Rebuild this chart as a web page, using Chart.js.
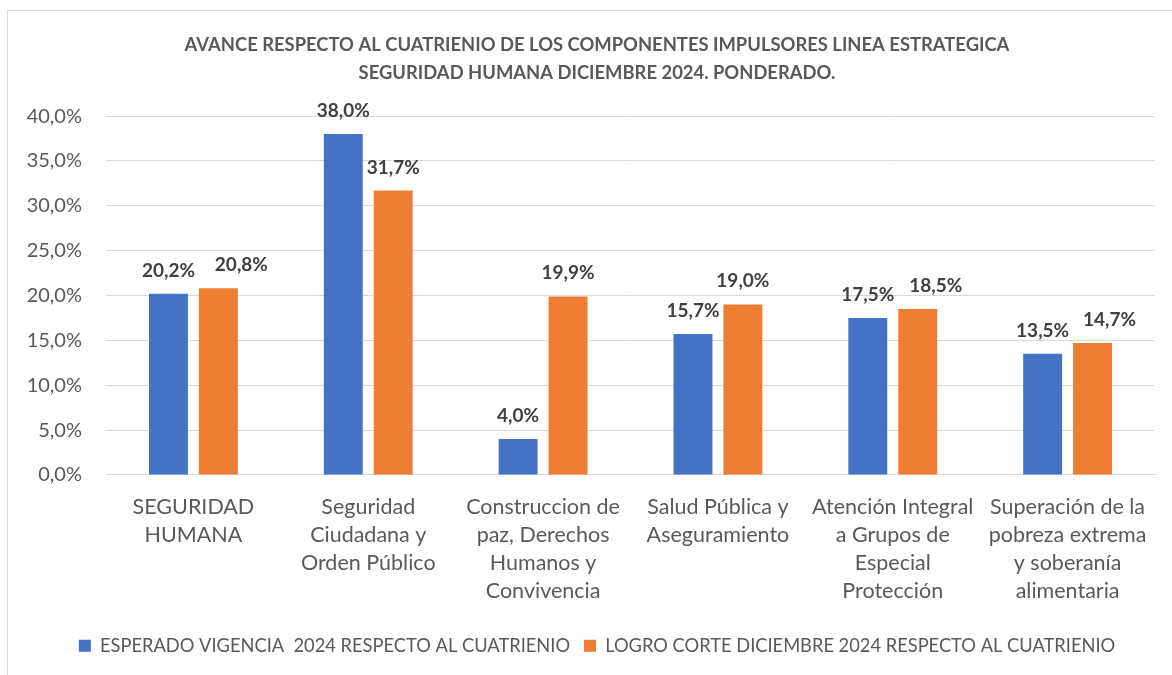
<!DOCTYPE html>
<html>
<head>
<meta charset="utf-8">
<script src="https://cdn.jsdelivr.net/npm/chart.js@4.4.1/dist/chart.umd.min.js"></script>
<style>
    html, body { margin: 0; padding: 0; background: #fff; overflow: hidden; }
    #wrap {
        position: absolute; left: 7px; top: 10px;
        width: 1190px; height: 700px;
        border: 1px solid #d9d9d9; box-sizing: border-box;
    }
    #holder { position: absolute; left: 0; top: 0; width: 1164px; height: 665px; }
</style>
</head>
<body>
<div id="wrap"><div id="holder"><canvas id="chart"></canvas></div></div>
<script>
    // Datos del gráfico
    var categories = [
        ['SEGURIDAD', 'HUMANA'],
        ['Seguridad', 'Ciudadana y', 'Orden Público'],
        ['Construccion de', 'paz, Derechos', 'Humanos y', 'Convivencia'],
        ['Salud Pública y', 'Aseguramiento'],
        ['Atención Integral', 'a Grupos de', 'Especial', 'Protección'],
        ['Superación de la', 'pobreza extrema', 'y soberanía', 'alimentaria']
    ];
    var esperado = [20.2, 38.0, 4.0, 15.7, 17.5, 13.5];
    var logro = [20.8, 31.7, 19.9, 19.0, 18.5, 14.7];
    var seriesNames = [
        'ESPERADO VIGENCIA  2024 RESPECTO AL CUATRIENIO',
        'LOGRO CORTE DICIEMBRE 2024 RESPECTO AL CUATRIENIO'
    ];
    var titleLines = [
        'AVANCE RESPECTO AL CUATRIENIO DE LOS COMPONENTES IMPULSORES LINEA ESTRATEGICA',
        'SEGURIDAD HUMANA DICIEMBRE 2024. PONDERADO.'
    ];

    var FONT = 'Lato, "Open Sans", sans-serif';

    function pct(v) {
        return v.toFixed(1).replace('.', ',') + '%';
    }

    // Etiquetas de valor encima de cada barra
    // (las del segundo grupo se corren a la derecha cuando chocan, como en Excel)
    var labelShift = [[0, 0, 0, 0, 0, 0], [23, 0, 0, 0, 18, 17]];
    var valueLabels = {
        id: 'valueLabels',
        afterDatasetsDraw: function(chart) {
            var ctx = chart.ctx;
            ctx.save();
            ctx.font = 'bold 19px ' + FONT;
            ctx.fillStyle = '#404040';
            ctx.textAlign = 'center';
            ctx.textBaseline = 'alphabetic';
            chart.data.datasets.forEach(function(ds, di) {
                var meta = chart.getDatasetMeta(di);
                meta.data.forEach(function(bar, i) {
                    ctx.fillText(pct(ds.data[i]), bar.x + labelShift[di][i], bar.y - 17);
                });
            });
            ctx.restore();
        }
    };

    new Chart(document.getElementById('chart').getContext('2d'), {
        type: 'bar',
        data: {
            labels: categories,
            datasets: [
                {
                    label: seriesNames[0],
                    data: esperado,
                    backgroundColor: '#4472c4',
                    categoryPercentage: 0.571,
                    barPercentage: 0.78
                },
                {
                    label: seriesNames[1],
                    data: logro,
                    backgroundColor: '#ed7d31',
                    categoryPercentage: 0.571,
                    barPercentage: 0.78
                }
            ]
        },
        options: {
            responsive: true,
            maintainAspectRatio: false,
            animation: false,
            layout: { padding: { top: 21, right: 17, left: 31, bottom: 11 } },
            scales: {
                y: {
                    min: 0,
                    max: 40,
                    ticks: {
                        stepSize: 5,
                        padding: 24,
                        color: '#595959',
                        font: { family: FONT, size: 20 },
                        callback: function(v) { return pct(v); }
                    },
                    grid: { color: '#d9d9d9', lineWidth: 1, drawTicks: false },
                    border: { display: false },
                    afterFit: function(scale) {
                        scale.width = 67;
                        // no recortar las etiquetas al ancho del eje
                        scale._computeLabelArea = function() { return undefined; };
                    }
                },
                x: {
                    ticks: {
                        padding: 18,
                        color: '#595959',
                        font: { family: FONT, size: 21.5, lineHeight: 1.3 },
                        maxRotation: 0,
                        autoSkip: false
                    },
                    grid: { display: false, drawTicks: false },
                    border: { color: '#d9d9d9' }
                }
            },
            plugins: {
                title: {
                    display: true,
                    text: titleLines,
                    color: '#595959',
                    font: { family: FONT, size: 18.4, weight: 'bold', lineHeight: 1.47 },
                    padding: { top: 0, bottom: 30 }
                },
                legend: {
                    position: 'bottom',
                    labels: {
                        boxWidth: 12,
                        boxHeight: 12,
                        padding: 14,
                        color: '#595959',
                        font: { family: FONT, size: 18.3 }
                    }
                },
                tooltip: { enabled: false }
            }
        },
        plugins: [valueLabels]
    });
</script>
</body>
</html>
